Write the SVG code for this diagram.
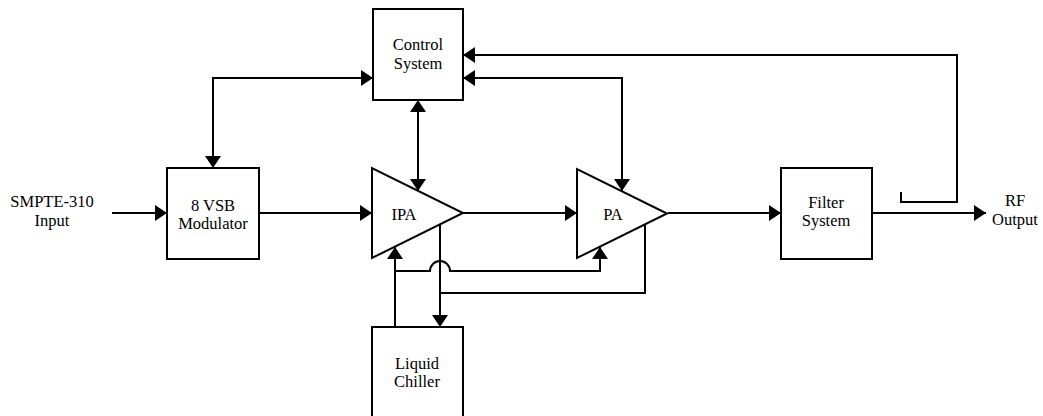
<svg xmlns="http://www.w3.org/2000/svg" width="1043" height="416" viewBox="0 0 1043 416">
<style>
.box{fill:#fff;stroke:#000;stroke-width:2}
.ln{fill:none;stroke:#000;stroke-width:2}
.a1{marker-end:url(#ah)}
.a2{marker-start:url(#ah);marker-end:url(#ah)}
.t{font-family:'Liberation Serif',Tinos,'Times New Roman',Times,'DejaVu Serif',serif;font-size:16.5px;fill:#000;text-anchor:middle}
</style>
<defs>
<marker id="ah" markerUnits="userSpaceOnUse" markerWidth="13" markerHeight="17" refX="12" refY="8" orient="auto-start-reverse">
<path d="M0,0 L12,8 L0,16 z" fill="#000"/>
</marker>
</defs>
<rect width="1043" height="416" fill="#fff"/>
<g id="connectors">
<path class="ln a1" d="M112,213 H167"/>
<path class="ln a1" d="M259,213 H372"/>
<path class="ln a1" d="M463,213 H577"/>
<path class="ln a1" d="M668,213 H781"/>
<path class="ln a1" d="M872,213 H986"/>
<path class="ln a2" d="M373,78 H213 V168"/>
<path class="ln a2" d="M418,100 V191"/>
<path class="ln a2" d="M463,78 H622 V191"/>
<path class="ln a1" d="M901,192 V202 H957 V55 H463"/>
<path class="ln a1" d="M395,327 V247"/>
<path class="ln a1" d="M395,271 H430 A10,10 0 0 1 450,271 H600 V247"/>
<path class="ln a1" d="M440,224 V327"/>
<path class="ln" d="M645,224 V293 H440"/>
</g>
<g id="smpte">
<text class="t" x="52" y="207" font-family="Liberation Serif, serif">SMPTE-310</text>
<text class="t" x="52" y="226" font-family="Liberation Serif, serif">Input</text>
</g>
<g id="control">
<rect class="box" x="373" y="9" width="90" height="91"/>
<text class="t" x="418" y="50">Control</text>
<text class="t" x="418" y="69">System</text>
</g>
<g id="modulator">
<rect class="box" x="167" y="168" width="92" height="91"/>
<text class="t" x="213" y="211">8 VSB</text>
<text class="t" x="213" y="229">Modulator</text>
</g>
<g id="ipa">
<path class="box" d="M372,168 L372,258 L463,213 Z"/>
<text class="t" x="404" y="220">IPA</text>
</g>
<g id="pa">
<path class="box" d="M577,169 L577,258 L667,213.5 Z"/>
<text class="t" x="613" y="220">PA</text>
</g>
<g id="filter">
<rect class="box" x="781" y="168" width="91" height="91"/>
<text class="t" x="826" y="208">Filter</text>
<text class="t" x="826" y="226">System</text>
</g>
<g id="chiller">
<rect class="box" x="372" y="327" width="91" height="100"/>
<text class="t" x="417" y="369">Liquid</text>
<text class="t" x="417" y="387">Chiller</text>
</g>
<g id="rfout">
<text class="t" x="1015" y="206">RF</text>
<text class="t" x="1015" y="225">Output</text>
</g>
</svg>
